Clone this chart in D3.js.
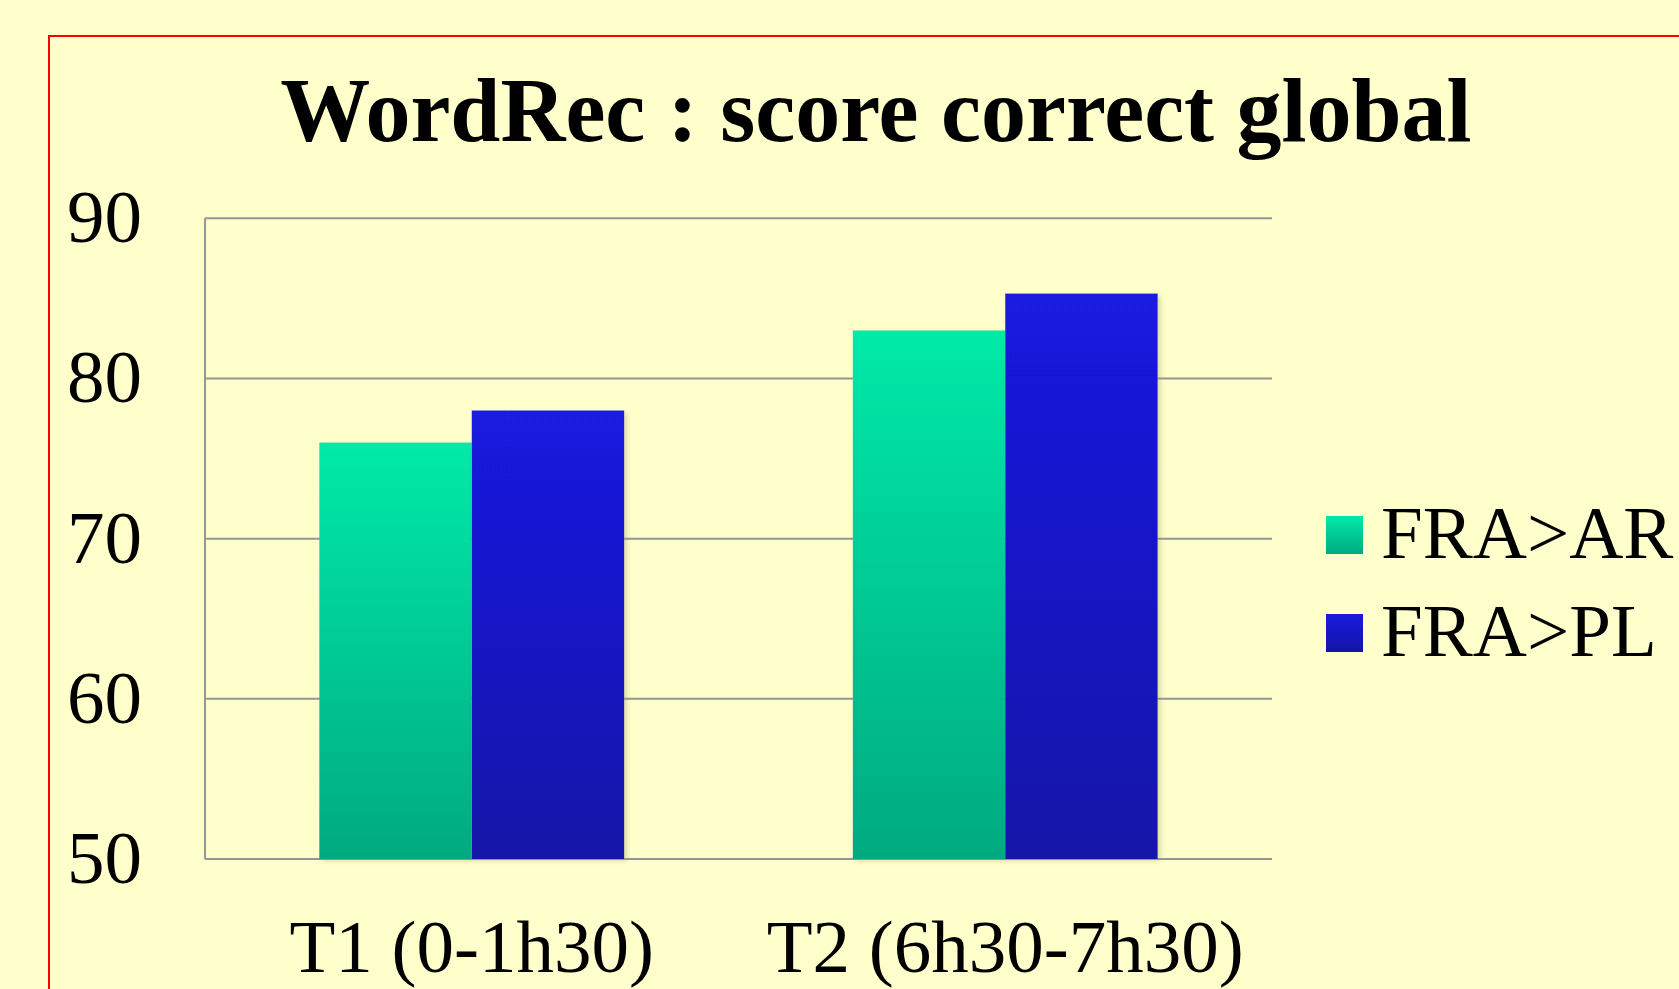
<!DOCTYPE html>
<html><head><meta charset="utf-8">
<script src="https://cdn.jsdelivr.net/npm/d3@7"></script>
<style>
html,body{margin:0;padding:0;background:#FFFFCC;overflow:hidden}
svg{display:block}
text{font-family:"Liberation Serif","Times New Roman",serif;fill:#000}
</style></head>
<body>
<script>
const categories = ["T1 (0-1h30)", "T2 (6h30-7h30)"];
const seriesNames = ["FRA>AR", "FRA>PL"];
const seriesAR = [76.0, 83.0];
const seriesPL = [78.0, 85.3];
const yTicks = [50, 60, 70, 80, 90];
const title = "WordRec : score correct global";

(function () {
const W = 1679, H = 989;
const svg = d3.select("body").append("svg").attr("width", W).attr("height", H);
svg.append("rect").attr("width", W).attr("height", H).attr("fill", "#FFFFCC");
// red frame
svg.append("rect").attr("x", 49).attr("y", 36).attr("width", 1700).attr("height", 1100)
  .attr("fill", "none").attr("stroke", "#FF0000").attr("stroke-width", 2);

const defs = svg.append("defs");
const grads = [["gAR", "#00EAA8", "#00AA80"], ["gPL", "#1A1AE0", "#1414A8"]];
grads.forEach(([id, c1, c2]) => {
  const g = defs.append("linearGradient").attr("id", id).attr("x1", 0).attr("y1", 0).attr("x2", 0).attr("y2", 1);
  g.append("stop").attr("offset", "0%").attr("stop-color", c1);
  g.append("stop").attr("offset", "100%").attr("stop-color", c2);
});
const f = defs.append("filter").attr("id", "sh").attr("x", "-10%").attr("y", "-10%").attr("width", "130%").attr("height", "130%");
f.append("feDropShadow").attr("dx", 3).attr("dy", 2).attr("stdDeviation", 2.5).attr("flood-color", "#9a9a60").attr("flood-opacity", 0.35);

const pL = 205, pR = 1272, pT = 218.3, pB = 859;
const y = d3.scaleLinear().domain([50, 90]).range([pB, pT]);
const x0 = d3.scaleBand().domain(categories).range([pL, pR]).paddingInner(1.5 / 3.5).paddingOuter(0.75 / 3.5);
const x1 = d3.scaleBand().domain(seriesNames).range([0, x0.bandwidth()]);

// gridlines
svg.append("g").selectAll("line").data(yTicks).join("line")
  .attr("x1", pL).attr("x2", pR).attr("y1", d => y(d)).attr("y2", d => y(d))
  .attr("stroke", "#959595").attr("stroke-width", 2);
// y axis line
svg.append("line").attr("x1", pL).attr("x2", pL).attr("y1", pT).attr("y2", pB)
  .attr("stroke", "#959595").attr("stroke-width", 2);

// tick labels
svg.append("g").selectAll("text").data(yTicks).join("text")
  .attr("x", 142).attr("y", d => y(d) + 24).attr("text-anchor", "end")
  .attr("font-size", 75).text(d => d);

// bars
const data = categories.map((c, i) => ({c, vals: [seriesAR[i], seriesPL[i]]}));
const gBars = svg.append("g");
data.forEach(d => {
  d.vals.forEach((v, j) => {
    gBars.append("rect")
      .attr("x", x0(d.c) + x1(seriesNames[j]))
      .attr("y", y(v))
      .attr("width", x1.bandwidth())
      .attr("height", y(50) - y(v))
      .attr("fill", `url(#${grads[j][0]})`)
      .attr("filter", "url(#sh)");
  });
});

// category labels
svg.append("g").selectAll("text").data(categories).join("text")
  .attr("x", d => x0(d) + x0.bandwidth() / 2).attr("y", 972).attr("text-anchor", "middle")
  .attr("font-size", 75).text(d => d);

// title
svg.append("text").attr("x", 876).attr("y", 141).attr("text-anchor", "middle")
  .attr("font-size", 90).attr("font-weight", "bold").text(title);

// legend
const lg = svg.append("g");
seriesNames.forEach((s, j) => {
  const yy = 516 + j * 98;
  lg.append("rect").attr("x", 1326).attr("y", yy).attr("width", 37).attr("height", 38)
    .attr("fill", `url(#${grads[j][0]})`);
  lg.append("text").attr("x", 1381).attr("y", yy + 42).attr("font-size", 75).text(s);
});
})();
</script>
</body></html>
